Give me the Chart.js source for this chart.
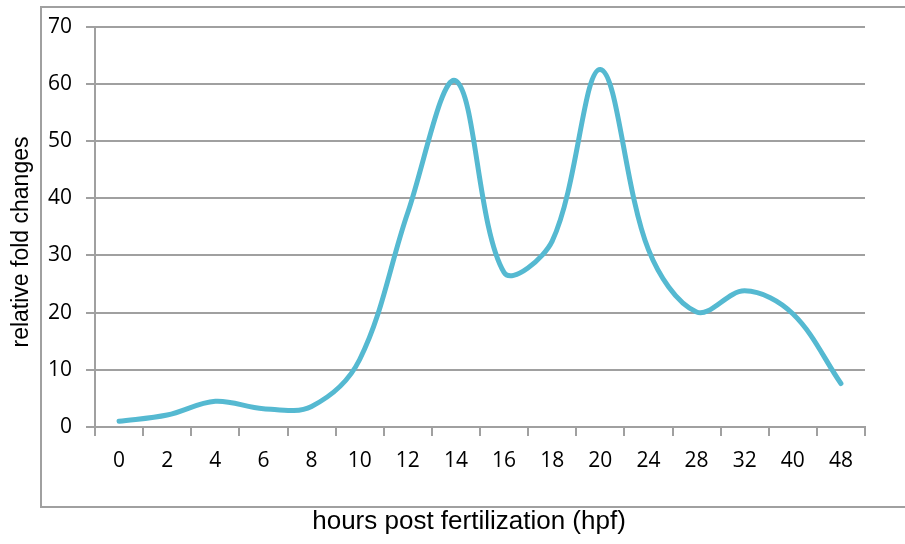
<!DOCTYPE html>
<html>
<head>
<meta charset="utf-8">
<script src="https://cdn.jsdelivr.net/npm/chart.js@4/dist/chart.umd.min.js"></script>
<style>
  html, body { margin: 0; padding: 0; background: #fff; }
  #wrap { width: 905px; height: 544px; }
</style>
</head>
<body>
<div id="wrap"><canvas id="foldChart"></canvas></div>
<script>
// data
const hpfLabels = ['0', '2', '4', '6', '8', '10', '12', '14', '16', '18', '20', '24', '28', '32', '40', '48'];
const foldValues = [1.0, 2.1, 4.5, 3.2, 3.6, 11.8, 37.5, 60.5, 27.0, 32.5, 62.5, 31.0, 20.1, 23.8, 19.8, 7.6];
const yTicks = [0, 10, 20, 30, 40, 50, 60, 70];

const xTitle = 'hours post fertilization (hpf)';
const yTitle = 'relative fold changes';
const gridGray = '#a0a0a0';

// frame around the plot + axis titles
const framePlugin = {
    id: 'frame',
    afterDraw(chart) {
        const ctx = chart.ctx;
        ctx.save();
        ctx.strokeStyle = gridGray;
        ctx.lineWidth = 2;
        ctx.strokeRect(41, 7, 880, 500);

        ctx.fillStyle = '#000';
        ctx.textAlign = 'center';
        ctx.textBaseline = 'middle';
        ctx.font = '26px "Liberation Sans", Arial, sans-serif';
        ctx.fillText(xTitle, 469, 522);

        ctx.translate(22, 242);
        ctx.rotate(-Math.PI / 2);
        ctx.font = '23px "Liberation Sans", Arial, sans-serif';
        ctx.fillText(yTitle, 0, 0);
        ctx.restore();
    }
};

document.addEventListener('DOMContentLoaded', () => {
    const ctx = document.getElementById('foldChart').getContext('2d');
    new Chart(ctx, {
        type: 'line',
        data: {
            labels: hpfLabels,
            datasets: [{
                data: foldValues,
                borderColor: '#55b9d1',
                borderWidth: 5,
                borderCapStyle: 'round',
                tension: 0.35,
                pointRadius: 0,
                fill: false
            }]
        },
        options: {
            responsive: true,
            maintainAspectRatio: false,
            animation: false,
            layout: { padding: { left: 0, right: 40, top: 25, bottom: 0 } },
            plugins: {
                legend: { display: false },
                tooltip: { enabled: false }
            },
            scales: {
                x: {
                    offset: true,
                    grid: { offset: true, drawOnChartArea: false, tickLength: 9, color: gridGray, lineWidth: 2 },
                    border: { color: gridGray, width: 2 },
                    ticks: {
                        color: '#000',
                        padding: 12,
                        maxRotation: 0,
                        autoSkip: false,
                        font: { family: '"Open Sans"', size: 21 }
                    },
                    afterFit(scale) { scale.height = 117; }
                },
                y: {
                    min: yTicks[0],
                    max: yTicks[yTicks.length - 1],
                    afterBuildTicks(scale) { scale.ticks = yTicks.map(v => ({ value: v })); },
                    grid: { tickLength: 9, color: gridGray, lineWidth: 2 },
                    border: { color: gridGray, width: 2 },
                    ticks: {
                        color: '#000',
                        padding: 14,
                        font: { family: '"Open Sans"', size: 21 }
                    },
                    afterFit(scale) { scale.width = 95; }
                }
            }
        },
        plugins: [framePlugin]
    });
});
</script>
</body>
</html>
